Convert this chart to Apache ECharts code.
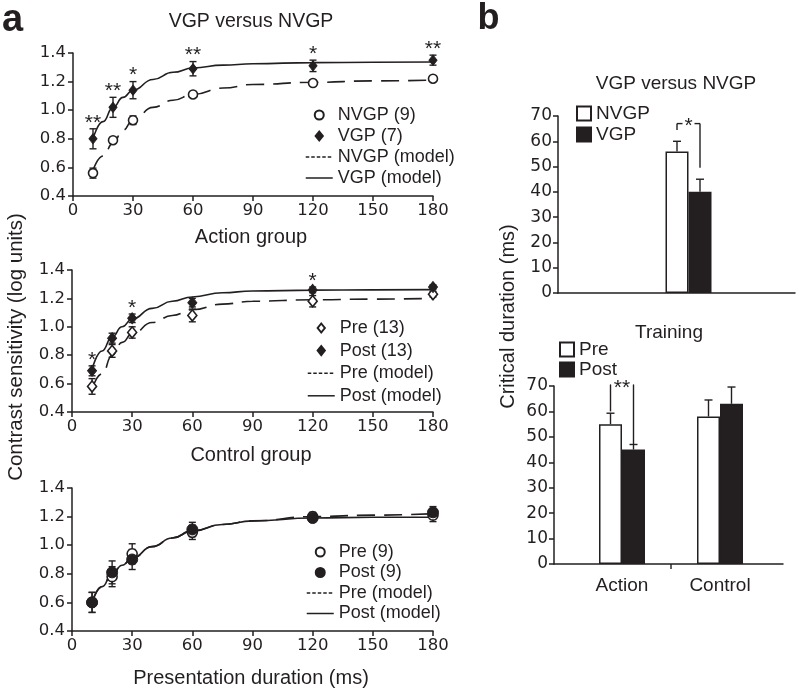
<!DOCTYPE html>
<html><head><meta charset="utf-8">
<script src="https://cdn.jsdelivr.net/npm/echarts@6/dist/echarts.min.js"></script>
<style>html,body{margin:0;padding:0;background:#fff}#c{width:800px;height:694px}</style>
</head><body><div id="c"></div>
<script>
// ---------------- data ----------------
const durations = [10, 20, 30, 60, 120, 180];
const modelX = [10, 15, 20, 25, 30, 40, 50, 60, 75, 90, 120, 150, 180];

// Panel a, top: VGP versus NVGP
const nvgpMean = [0.56, 0.79, 0.93, 1.11, 1.19, 1.22];
const nvgpErr  = [0.035, 0.02, 0.03, 0.02, 0.015, 0.015];
const vgpMean  = [0.80, 1.02, 1.14, 1.29, 1.31, 1.35];
const vgpErr   = [0.07, 0.07, 0.06, 0.05, 0.04, 0.035];
const vgpStars = ['**', '**', '*', '**', '*', '**'];
const nvgpModel = [0.58, 0.68, 0.77, 0.86, 0.93, 1.02, 1.07, 1.11, 1.155, 1.18, 1.195, 1.205, 1.21];
const vgpModel  = [0.80, 0.92, 1.02, 1.09, 1.14, 1.215, 1.265, 1.295, 1.315, 1.325, 1.333, 1.335, 1.337];

// Panel a, middle: Action group
const actPreMean  = [0.58, 0.83, 0.96, 1.08, 1.18, 1.23];
const actPreErr   = [0.055, 0.045, 0.04, 0.045, 0.04, 0.02];
const actPostMean = [0.69, 0.92, 1.06, 1.17, 1.26, 1.28];
const actPostErr  = [0.035, 0.035, 0.03, 0.03, 0.02, 0.015];
const actStars    = ['*', '', '*', '', '*', ''];
const actPreModel  = [0.56, 0.67, 0.80, 0.89, 0.95, 1.03, 1.08, 1.12, 1.16, 1.18, 1.19, 1.195, 1.20];
const actPostModel = [0.70, 0.83, 0.93, 1.00, 1.055, 1.13, 1.18, 1.21, 1.24, 1.252, 1.258, 1.26, 1.262];

// Panel a, bottom: Control group
const ctlPreMean  = [0.60, 0.78, 0.94, 1.09, 1.20, 1.21];
const ctlPreErr   = [0.07, 0.07, 0.07, 0.05, 0.03, 0.045];
const ctlPostMean = [0.60, 0.81, 0.90, 1.11, 1.19, 1.23];
const ctlPostErr  = [0.07, 0.08, 0.07, 0.05, 0.03, 0.04];
const ctlPreModel  = [0.60, 0.71, 0.80, 0.86, 0.91, 0.99, 1.05, 1.10, 1.145, 1.17, 1.20, 1.21, 1.22];
const ctlPostModel = [0.60, 0.71, 0.80, 0.86, 0.91, 0.99, 1.05, 1.10, 1.145, 1.17, 1.19, 1.195, 1.195];

// Panel b, top
const bTopCats = ['VGP versus NVGP'];
const bNvgp = [56], bNvgpErr = [4];
const bVgp  = [40], bVgpErr  = [5];
const bTopBracket = [[0, 64.5, 49.5, 67]];   // [category, left leg end, right leg end, bracket top]
const bTopBracketStars = ['*'];

// Panel b, bottom
const bCats = ['Action', 'Control'];
const bPre  = [55, 58],  bPreErr  = [4.3, 6.5];
const bPost = [45, 63],  bPostErr = [2, 6.6];
const bBotBracket = [[0, 60, 47, 70.5]];
const bBotBracketStars = ['**'];

const xTicks = {min: 0, max: 180, interval: 30};
const yTicks = {min: 0.4, max: 1.4, interval: 0.2};
const bTicks = {min: 0, max: 70, interval: 10};

// ---------------- styling ----------------
const INK = '#231f20';
const FONT = "'Liberation Sans', Arial, Helvetica, sans-serif";
const TFONT = "'DejaVu Sans', 'Liberation Sans', Arial, sans-serif";
const AX = {lineStyle: {color: INK, width: 1.5}};

const grids = [
  {left: 73, top: 53, width: 360, height: 143},   // 0 a top
  {left: 72, top: 270, width: 361, height: 142},  // 1 a middle
  {left: 72, top: 488, width: 361, height: 143},  // 2 a bottom
  {left: 641, top: 116, width: 95, height: 177},  // 3 b top bars
  {left: 558, top: 116, width: 237, height: 177}, // 4 b top base line
  {left: 573, top: 386, width: 196, height: 178}, // 5 b bottom bars
  {left: 554, top: 386, width: 229, height: 178}  // 6 b bottom base line
];

const xAxes = [], yAxes = [];
for (let g = 0; g < 3; g++) {
  xAxes.push({type: 'value', gridIndex: g, min: xTicks.min, max: xTicks.max, interval: xTicks.interval,
    axisLine: AX, axisTick: {show: true, length: 5, lineStyle: AX.lineStyle},
    axisLabel: {color: INK, fontSize: 16.5, fontFamily: TFONT, margin: 6}, splitLine: {show: false}});
  yAxes.push({type: 'value', gridIndex: g, min: yTicks.min, max: yTicks.max, interval: yTicks.interval,
    axisLine: Object.assign({show: true}, AX), axisTick: {show: true, length: 5, lineStyle: AX.lineStyle},
    axisLabel: {color: INK, fontSize: 16.5, fontFamily: TFONT, margin: 7, formatter: v => v.toFixed(1)},
    splitLine: {show: false}});
}
xAxes.push({type: 'category', gridIndex: 3, data: bTopCats, axisLine: {show: false}, axisTick: {show: false}, axisLabel: {show: false}, splitLine: {show: false}});
yAxes.push({type: 'value', gridIndex: 3, offset: 83, min: bTicks.min, max: bTicks.max, interval: bTicks.interval,
  axisLine: Object.assign({show: true}, AX), axisTick: {show: true, length: 5, lineStyle: AX.lineStyle},
  axisLabel: {color: INK, fontSize: 17, fontFamily: TFONT, margin: 6}, splitLine: {show: false}});
xAxes.push({type: 'value', gridIndex: 4, axisLine: AX, axisTick: {show: false}, axisLabel: {show: false}, splitLine: {show: false}});
yAxes.push({type: 'value', gridIndex: 4, show: false, splitLine: {show: false}});
xAxes.push({type: 'category', gridIndex: 5, data: bCats, axisLine: {show: false}, axisTick: {show: false}, splitLine: {show: false},
  axisLabel: {color: INK, fontSize: 19, fontFamily: FONT, margin: 12}});
yAxes.push({type: 'value', gridIndex: 5, offset: 19, min: bTicks.min, max: bTicks.max, interval: bTicks.interval,
  axisLine: Object.assign({show: true}, AX), axisTick: {show: true, length: 5, lineStyle: AX.lineStyle},
  axisLabel: {color: INK, fontSize: 17, fontFamily: TFONT, margin: 6}, splitLine: {show: false}});
xAxes.push({type: 'value', gridIndex: 6, axisLine: AX, axisTick: {show: false}, axisLabel: {show: false}, splitLine: {show: false}});
yAxes.push({type: 'value', gridIndex: 6, show: false, splitLine: {show: false}});

// ---------------- series builders ----------------
const ST = () => ({stroke: INK, lineWidth: 1.4});
function errSeries(g, xs, means, errs, cap) {
  return {
    type: 'custom', xAxisIndex: g, yAxisIndex: g, z: 3, silent: true,
    data: xs.map((x, i) => [x, means[i]]),
    renderItem: (p, api) => {
      const i = p.dataIndex;
      const lo = api.coord([xs[i], means[i] - errs[i]]);
      const hi = api.coord([xs[i], means[i] + errs[i]]);
      return {type: 'group', children: [
        {type: 'line', shape: {x1: lo[0], y1: lo[1], x2: hi[0], y2: hi[1]}, style: ST()},
        {type: 'line', shape: {x1: lo[0] - cap, y1: lo[1], x2: lo[0] + cap, y2: lo[1]}, style: ST()},
        {type: 'line', shape: {x1: hi[0] - cap, y1: hi[1], x2: hi[0] + cap, y2: hi[1]}, style: ST()}
      ]};
    }
  };
}
function starSeries(g, xs, means, errs, stars) {
  return {
    type: 'custom', xAxisIndex: g, yAxisIndex: g, z: 6, silent: true,
    data: xs.map((x, i) => [x, means[i] + errs[i]]),
    renderItem: (p, api) => {
      const i = p.dataIndex;
      const s = stars[i];
      if (!s) return null;
      const pt = api.coord([xs[i], means[i] + errs[i]]);
      return {type: 'text', x: pt[0], y: pt[1] - 6,
        style: {text: s, fill: INK, fontSize: 21, fontFamily: FONT, align: 'center', verticalAlign: 'middle',
          textAlign: 'center', textVerticalAlign: 'middle'}};
    }
  };
}
function pointSeries(g, name, xs, means, symbol, size, filled) {
  return {
    type: 'scatter', name, xAxisIndex: g, yAxisIndex: g, z: 5, symbol, symbolSize: size,
    data: xs.map((x, i) => [x, means[i]]),
    itemStyle: filled ? {color: INK, borderColor: INK, borderWidth: 1, opacity: 1}
                      : {color: '#ffffff', borderColor: INK, borderWidth: 1.6, opacity: 1},
    emphasis: {disabled: true}
  };
}
function modelSeries(g, name, model, dashed) {
  return {
    type: 'line', name, xAxisIndex: g, yAxisIndex: g, z: 2, symbol: 'none', showSymbol: false,
    smooth: 0.5, smoothMonotone: 'x',
    data: modelX.map((x, i) => [x, model[i]]),
    lineStyle: {color: INK, width: 1.6, type: dashed ? [18, 9] : 'solid'},
    itemStyle: {color: INK},
    emphasis: {disabled: true}
  };
}
function barErr(g, means, errs, shift) {
  return {
    type: 'custom', xAxisIndex: g, yAxisIndex: g, z: 4, silent: true,
    data: means.map((m, i) => [i, m]),
    renderItem: (p, api) => {
      const i = p.dataIndex;
      const lo = api.coord([i, means[i]]);
      const hi = api.coord([i, means[i] + errs[i]]);
      const x = lo[0] + shift;
      return {type: 'group', children: [
        {type: 'line', shape: {x1: x, y1: lo[1], x2: x, y2: hi[1]}, style: ST()},
        {type: 'line', shape: {x1: x - 4, y1: hi[1], x2: x + 4, y2: hi[1]}, style: ST()}
      ]};
    }
  };
}
function bracket(g, rows, stars, half) {
  return {
    type: 'custom', xAxisIndex: g, yAxisIndex: g, z: 6, silent: true,
    data: rows.map(r => [r[0], r[3]]),
    renderItem: (p, api) => {
      const r = rows[p.dataIndex];
      const top = api.coord([r[0], r[3]]);
      const yl = api.coord([r[0], r[1]])[1];
      const yr = api.coord([r[0], r[2]])[1];
      const xl = top[0] - half, xr = top[0] + half, yt = top[1];
      const s = stars[p.dataIndex];
      const gap = s.length * 5 + 1;
      return {type: 'group', children: [
        {type: 'line', shape: {x1: xl, y1: yl, x2: xl, y2: yt}, style: ST()},
        {type: 'line', shape: {x1: xl, y1: yt, x2: top[0] - gap, y2: yt}, style: ST()},
        {type: 'line', shape: {x1: top[0] + gap, y1: yt, x2: xr, y2: yt}, style: ST()},
        {type: 'line', shape: {x1: xr, y1: yt, x2: xr, y2: yr}, style: ST()},
        {type: 'text', x: top[0], y: yt + 3, style: {text: s, fill: INK, fontSize: 21, fontFamily: FONT,
          align: 'center', verticalAlign: 'middle', textAlign: 'center', textVerticalAlign: 'middle'}}
      ]};
    }
  };
}
function catTick(g) {
  return {
    type: 'custom', xAxisIndex: g, yAxisIndex: g, z: 6, silent: true,
    data: [[0, 0]],
    renderItem: (p, api) => {
      const a = api.coord([0, 0]), b = api.coord([1, 0]);
      const x = (a[0] + b[0]) / 2;
      return {type: 'line', shape: {x1: x, y1: a[1], x2: x, y2: a[1] + 5}, style: ST()};
    }
  };
}
function barSeries(g, name, vals, filled) {
  return {
    type: 'bar', name, xAxisIndex: g, yAxisIndex: g, z: 3, data: vals, barWidth: 23, barGap: '0%',
    itemStyle: filled ? {color: INK, borderColor: INK, borderWidth: 1.5} : {color: '#ffffff', borderColor: INK, borderWidth: 1.5},
    emphasis: {disabled: true}
  };
}

const series = [
  // a top
  modelSeries(0, 'NVGP (model)', nvgpModel, true),
  modelSeries(0, 'VGP (model)', vgpModel, false),
  errSeries(0, durations, nvgpMean, nvgpErr, 3.5),
  errSeries(0, durations, vgpMean, vgpErr, 3.5),
  pointSeries(0, 'NVGP (9)', durations, nvgpMean, 'circle', 9, false),
  pointSeries(0, 'VGP (7)', durations, vgpMean, 'diamond', [8, 10], true),
  starSeries(0, durations, vgpMean, vgpErr, vgpStars),
  // a middle
  modelSeries(1, 'Pre (model)', actPreModel, true),
  modelSeries(1, 'Post (model)', actPostModel, false),
  errSeries(1, durations, actPreMean, actPreErr, 3.5),
  errSeries(1, durations, actPostMean, actPostErr, 3.5),
  pointSeries(1, 'Pre (13)', durations, actPreMean, 'diamond', [9, 11], false),
  pointSeries(1, 'Post (13)', durations, actPostMean, 'diamond', [9, 11], true),
  starSeries(1, durations, actPostMean, actPostErr, actStars),
  // a bottom
  modelSeries(2, 'Pre (model)', ctlPreModel, true),
  modelSeries(2, 'Post (model)', ctlPostModel, false),
  errSeries(2, durations, ctlPreMean, ctlPreErr, 3.5),
  errSeries(2, durations, ctlPostMean, ctlPostErr, 3.5),
  pointSeries(2, 'Pre (9)', durations, ctlPreMean, 'circle', 10, false),
  pointSeries(2, 'Post (9)', durations, ctlPostMean, 'circle', 11, true),
  // b top
  barSeries(3, 'NVGP', bNvgp, false),
  barSeries(3, 'VGP', bVgp, true),
  barErr(3, bNvgp, bNvgpErr, -11.5),
  barErr(3, bVgp, bVgpErr, 11.5),
  bracket(3, bTopBracket, bTopBracketStars, 11.5),
  // b bottom
  barSeries(5, 'Pre', bPre, false),
  barSeries(5, 'Post', bPost, true),
  barErr(5, bPre, bPreErr, -11.5),
  barErr(5, bPost, bPostErr, 11.5),
  bracket(5, bBotBracket, bBotBracketStars, 11.5),
  catTick(5)
];

const legTxt = {fontSize: 18, color: INK, fontFamily: FONT};
const DIAMOND = 'path://M4,0L8,5L4,10L0,5Z';
const hideSym = {opacity: 0};
const dashLeg = {type: [3.5, 2], width: 1.5, color: INK};
const solidLeg = {type: 'solid', width: 1.5, color: INK};
const legends = [
  {data: [{name: 'NVGP (9)', icon: 'circle'}, {name: 'VGP (7)', icon: DIAMOND},
          {name: 'NVGP (model)', lineStyle: dashLeg, itemStyle: hideSym},
          {name: 'VGP (model)', lineStyle: solidLeg, itemStyle: hideSym}],
   left: 305, top: 106, itemGap: 3},
  {data: [{name: 'Pre (13)', icon: DIAMOND}, {name: 'Post (13)', icon: DIAMOND},
          {name: 'Pre (model)', lineStyle: dashLeg, itemStyle: hideSym},
          {name: 'Post (model)', lineStyle: solidLeg, itemStyle: hideSym}],
   left: 307, top: 319, itemGap: 4.6},
  {data: [{name: 'Pre (9)', icon: 'circle'}, {name: 'Post (9)', icon: 'circle'},
          {name: 'Pre (model)', lineStyle: dashLeg, itemStyle: hideSym},
          {name: 'Post (model)', lineStyle: solidLeg, itemStyle: hideSym}],
   left: 306, top: 543, itemGap: 2.5}
].map(l => Object.assign({orient: 'vertical', itemWidth: 27, itemHeight: 9, padding: 0,
  textStyle: legTxt, selectedMode: false}, l));
legends.push(
  {data: [{name: 'NVGP', icon: 'rect'}, {name: 'VGP', icon: 'rect'}], left: 576, top: 104, orient: 'vertical',
   itemWidth: 14, itemHeight: 14, itemGap: 2, padding: 0, textStyle: Object.assign({}, legTxt, {fontSize: 19}), selectedMode: false},
  {data: [{name: 'Pre', icon: 'rect'}, {name: 'Post', icon: 'rect'}], left: 559, top: 340, orient: 'vertical',
   itemWidth: 14, itemHeight: 14, itemGap: 1, padding: 0, textStyle: Object.assign({}, legTxt, {fontSize: 19}), selectedMode: false}
);

function txt(text, x, y, size, opts) {
  return Object.assign({type: 'text', x, y, silent: true,
    style: Object.assign({text, fill: INK, fontSize: size, fontFamily: FONT, align: 'center', verticalAlign: 'middle',
      textAlign: 'center', textVerticalAlign: 'middle'}, (opts && opts.style) || {})},
    (opts && opts.el) || {});
}
const graphics = [
  txt('a', 12.5, 21, 38, {style: {fontWeight: 'bold'}}),
  txt('b', 488.5, 19, 36, {style: {fontWeight: 'bold'}}),
  txt('VGP versus NVGP', 251, 22, 19.5),
  txt('Action group', 251, 237, 20),
  txt('Control group', 251, 455, 20),
  txt('Presentation duration (ms)', 251, 678, 20),
  txt('Contrast sensitivity (log units)', 16, 347, 20.5, {el: {rotation: Math.PI / 2}}),
  txt('VGP versus NVGP', 676, 84, 19),
  txt('Training', 669, 333, 19),
  txt('Critical duration (ms)', 508, 316.5, 20, {el: {rotation: Math.PI / 2}})
];

const chart = echarts.init(document.getElementById('c'));
chart.setOption({
  animation: false,
  backgroundColor: '#fff',
  textStyle: {fontFamily: FONT, color: INK},
  grid: grids,
  xAxis: xAxes,
  yAxis: yAxes,
  legend: legends,
  series: series,
  graphic: graphics
});
</script></body></html>
